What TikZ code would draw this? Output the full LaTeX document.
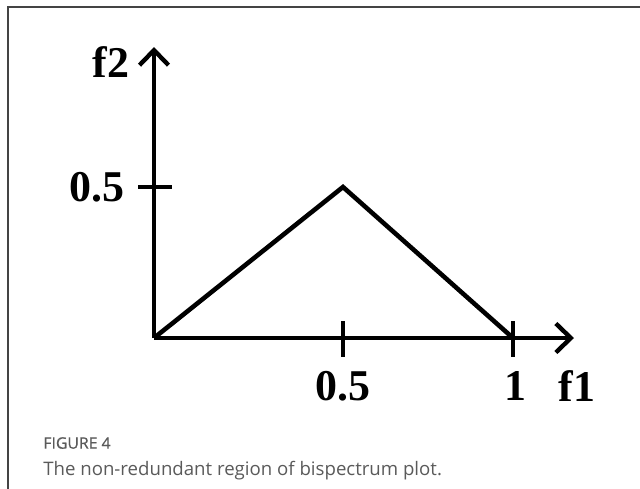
\documentclass[tikz,border=0pt]{standalone}
\usepackage{fontspec}
\setmainfont{Liberation Serif}
\newfontfamily\capfont{Open Sans}
\newfontfamily\capboldfont[FakeBold=0.6]{Open Sans}
\usetikzlibrary{arrows.meta}
\definecolor{framegray}{HTML}{444444}
\definecolor{capgray}{HTML}{5A5A5A}
\begin{document}
\begin{tikzpicture}[x=0.02cm,y=-0.02cm,
  axis/.style={line width=2.7pt,-{Straight Barb[length=0.3cm,width=0.58cm,line width=2.5pt]}},
  edge/.style={line width=2.6pt},
  tickline/.style={line width=2.6pt},
  ticklabel/.style={font=\fontsize{25}{25}\selectfont\bfseries,inner sep=0pt},
  captitle/.style={font=\capboldfont\fontsize{9}{10}\selectfont,text=capgray,anchor=west,inner sep=0pt},
  captext/.style={font=\capfont\fontsize{10.6}{12}\selectfont,text=capgray,anchor=west,inner sep=0pt}]
\useasboundingbox (0,0) rectangle (640,488);
\draw[framegray,line width=0.9pt] (8,490) -- (8,7) -- (642,7);
% points
\coordinate (O) at (154,338);
\coordinate (P) at (343,187);
\coordinate (X1) at (513,338);
\coordinate (Ytip) at (154,47);
\coordinate (Xtip) at (574,338);
\coordinate (Yt1) at (138,187);
\coordinate (Yt2) at (172,187);
\coordinate (Xa1) at (343,321);
\coordinate (Xa2) at (343,357);
\coordinate (Xb1) at (513,321);
\coordinate (Xb2) at (513,357);
% triangle
\draw[edge,line join=miter] (O) -- (P) -- (X1);
% axes
\draw[axis] (O) -- (Ytip);
\draw[axis] (O) -- (Xtip);
% ticks
\draw[tickline] (Yt1) -- (Yt2);
\draw[tickline] (Xa1) -- (Xa2);
\draw[tickline] (Xb1) -- (Xb2);
% labels
\node[ticklabel] (lf2) at (111,62) {f2};
\node[ticklabel] (ly05) at (97,187) {0.5};
\node[ticklabel] (lx05) at (343,386) {0.5};
\node[ticklabel] (lx1) at (515,386) {1};
\node[ticklabel] (lf1) at (577,386) {f1};
% caption
\node[captitle] (cap1) at (43,443) {FIGURE 4};
\node[captext] (cap2) at (43,471) {The non-redundant region of bispectrum plot.};
\end{tikzpicture}
\end{document}
